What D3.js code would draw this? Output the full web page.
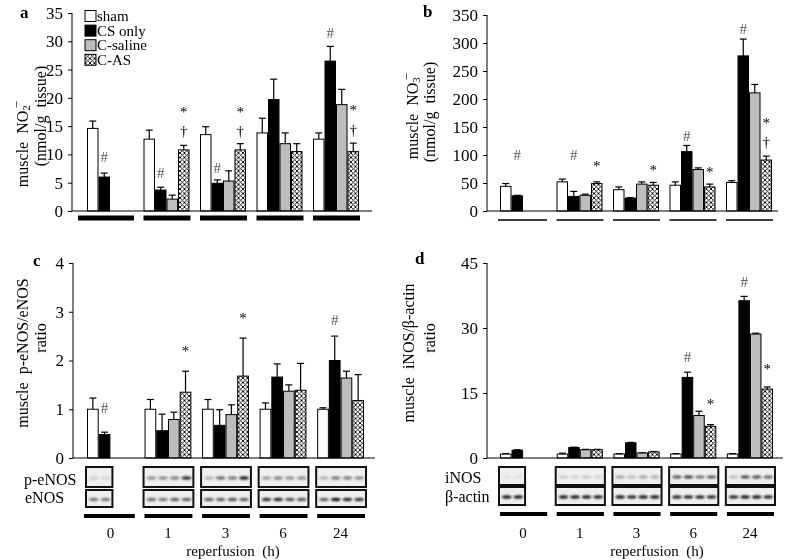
<!DOCTYPE html>
<html><head><meta charset="utf-8">
<script src="https://cdn.jsdelivr.net/npm/d3@7"></script>
<style>body{margin:0;background:#fff} svg{display:block;filter:grayscale(1)} text{font-family:"Liberation Serif","Times New Roman",Times,serif;fill:#000}</style>
</head><body><svg id="chart" width="785" height="560"></svg>
<script>
// ---------- data ----------
const groups = ["0","1","3","6","24"];
const seriesNames = ["sham","CS only","C-saline","C-AS"];

// panel a: muscle NO2- (mean, upper error) ; rows = series
const no2Mean = [[14.6,12.7,13.5,13.8,12.7],[6.0,3.7,4.9,19.7,26.5],[null,2.1,5.3,11.9,18.8],[null,10.8,10.8,10.5,10.5]];
const no2Upper = [[15.9,14.3,14.9,16.4,13.8],[6.7,4.2,5.5,23.3,29.1],[null,2.8,7.1,13.8,21.5],[null,11.6,11.9,11.9,12.0]];
const no2Ticks = [0,5,10,15,20,25,30,35];
const no2Marks = [[0,1,"#",9.5],[1,1,"#",6.7],[2,1,"#",7.6],[4,1,"#",31.5],[1,3,"*",17.5],[1,3,"†",14.1],[2,3,"*",17.5],[2,3,"†",14.1],[4,3,"*",17.9],[4,3,"†",14.3]];

// panel b: muscle NO3-
const no3Mean = [[44,52,38,46,51],[27,26,23,106,277],[null,28,48,74,211],[null,49,46,43,91]];
const no3Upper = [[49,57,43,52,54],[28,35,24,117,307],[null,30,52,77,226],[null,52,51,48,98]];
const no3Ticks = [0,50,100,150,200,250,300,350];
const no3Marks = [[0,1,"#",100],[1,1,"#",100],[1,3,"*",80],[2,3,"*",73],[3,1,"#",134],[3,3,"*",70],[4,1,"#",325],[4,3,"*",157],[4,3,"†",123]];

// panel c: p-eNOS/eNOS ratio
const enosMean = [[1.0,1.0,1.0,1.0,1.0],[0.48,0.56,0.67,1.66,2.0],[null,0.79,0.89,1.37,1.64],[null,1.35,1.68,1.39,1.18]];
const enosUpper = [[1.23,1.2,1.2,1.13,1.03],[0.53,0.9,0.99,1.93,2.5],[null,0.94,1.09,1.5,1.78],[null,1.78,2.46,1.94,1.71]];
const enosTicks = [0,1,2,3,4];
const enosMarks = [[0,1,"#",1.03],[1,3,"*",2.2],[2,3,"*",2.87],[4,1,"#",2.83]];
const peNOSBands = [[.12,.12],[.4,.42,.45,.85],[.25,.55,.5,.9],[.35,.45,.4,.4],[.25,.5,.48,.42]];
const eNOSBands = [[.5,.5],[.55,.5,.6,.6],[.6,.6,.65,.6],[.8,.85,.65,.65],[.6,.95,.85,.8]];

// panel d: iNOS/beta-actin ratio
const inosMean = [[0.9,0.9,0.9,0.9,0.9],[1.8,2.4,3.5,18.6,36.3],[null,1.9,1.15,9.8,28.6],[null,1.9,1.4,7.3,15.9]];
const inosUpper = [[1.0,1.1,1.0,1.0,1.0],[1.9,2.5,3.6,19.8,37.3],[null,2.0,1.2,10.8,28.8],[null,2.0,1.5,7.7,16.4]];
const inosTicks = [0,15,30,45];
const inosMarks = [[3,1,"#",23.3],[3,3,"*",12.5],[4,1,"#",40.6],[4,3,"*",20.5]];
const iNOSBands = [[.06,.06],[.15,.1,.15,.1],[.3,.2,.3,.25],[.6,.7,.5,.6],[.2,.65,.65,.55]];
const actinBands = [[.9,.9],[.9,.9,.9,.9],[.9,.85,.9,.9],[.85,.85,.85,.85],[.85,.9,.9,.85]];

// ---------- drawing ----------
const svg = d3.select("#chart");
const defs = svg.append("defs");
const pat = defs.append("pattern").attr("id","hatch").attr("patternUnits","userSpaceOnUse")
  .attr("width",4.5).attr("height",4.5);
pat.append("rect").attr("width",4.5).attr("height",4.5).attr("fill","#fff");
pat.append("path").attr("d","M0,0 L4.5,4.5 M4.5,0 L0,4.5 M-1,1 L1,-1 M3.5,5.5 L5.5,3.5 M-1,3.5 L1,5.5 M3.5,-1 L5.5,1")
  .attr("stroke","#000").attr("stroke-width",0.9);
defs.append("filter").attr("id","blur").attr("x","-50%").attr("y","-100%").attr("width","200%").attr("height","300%")
  .append("feGaussianBlur").attr("stdDeviation",0.9);

const fills = ["#fff","#000","#bdbdbd","url(#hatch)"];

function panel(cfg){
  const g = svg.append("g");
  const x = d3.scaleBand().domain(groups).range([cfg.x0,cfg.x1]).paddingInner(0.186).paddingOuter(0);
  const xs = d3.scaleBand().domain(d3.range(4)).range([0,x.bandwidth()]);
  const y = d3.scaleLinear().domain([0,cfg.max]).range([cfg.y0,cfg.y1]);

  // bars
  cfg.mean.forEach((row,si)=>{
    row.forEach((v,gi)=>{
      if(v==null) return;
      const bx = x(groups[gi])+xs(si);
      const up = cfg.upper[si][gi];
      const cx = bx + xs.bandwidth()/2;
      g.append("line").attr("x1",cx).attr("x2",cx).attr("y1",y(v)).attr("y2",y(up)).attr("stroke","#000").attr("stroke-width",1.2);
      g.append("line").attr("x1",cx-3.5).attr("x2",cx+3.5).attr("y1",y(up)).attr("y2",y(up)).attr("stroke","#000").attr("stroke-width",1.2);
      g.append("rect").attr("x",bx+0.5).attr("y",y(v)).attr("width",xs.bandwidth()-1).attr("height",cfg.y0-y(v))
        .attr("fill",fills[si]).attr("stroke","#000").attr("stroke-width",1);
    });
  });

  // axes
  const ya = d3.axisLeft(y).tickValues(cfg.ticks).tickFormat(d3.format("d")).tickSize(4).tickPadding(5);
  const yg = g.append("g").attr("transform",`translate(${cfg.axisX},0)`).call(ya);
  yg.select(".domain").remove();
  yg.selectAll(".tick line").attr("stroke","#000");
  yg.selectAll(".tick text").attr("font-size",17).attr("font-family","Liberation Serif");
  g.append("line").attr("x1",cfg.axisX).attr("x2",cfg.axisX).attr("y1",y(cfg.max)).attr("y2",cfg.y0).attr("stroke","#000");
  g.append("line").attr("x1",cfg.axisX).attr("x2",cfg.axisEnd).attr("y1",cfg.y0).attr("y2",cfg.y0).attr("stroke","#000").attr("stroke-width",1.2);

  // markers
  cfg.marks.forEach(([gi,si,t,v])=>{
    g.append("text").attr("x",x(groups[gi])+xs(si)+xs.bandwidth()/2).attr("y",y(v))
      .attr("text-anchor","middle").attr("dominant-baseline","central")
      .attr("font-size",15).style("fill",t==="#"?"#555":"#000").text(t);
  });

  // group underline bars
  groups.forEach((gr,gi)=>{
    const s = x(gr) - (gi===0?cfg.firstShift:0);
    g.append("rect").attr("x",s).attr("y",cfg.lineY - cfg.lineW/2).attr("width",x.bandwidth()+1+(gi===0?cfg.firstShift:0)).attr("height",cfg.lineW).attr("fill","#000");
  });

  // blots
  if(cfg.blots){
    cfg.blots.forEach(b=>{
      groups.forEach((gr,gi)=>{
        const lanes = b.bands[gi];
        const bx = x(gr)-1, bw = lanes.length*xs.bandwidth()+3;
        g.append("rect").attr("x",bx).attr("y",b.y).attr("width",bw).attr("height",b.h)
          .attr("fill","#efefef").attr("stroke","#111").attr("stroke-width",2);
        lanes.forEach((v,li)=>{
          g.append("ellipse").attr("cx",x(gr)+xs(li)+xs.bandwidth()/2+1).attr("cy",b.y+b.h/2+1)
            .attr("rx",4.8).attr("ry",1.7).attr("fill","#000").attr("opacity",v).attr("filter","url(#blur)");
        });
      });
      g.append("text").attr("x",b.labelX).attr("y",b.labelY).attr("font-size",16).text(b.label);
    });
    groups.forEach(gr=>{
      g.append("text").attr("x",x(gr)+x.bandwidth()/2).attr("y",538)
        .attr("text-anchor","middle").attr("font-size",15).text(gr);
    });
    g.append("text").attr("x",cfg.reperfX).attr("y",556).attr("text-anchor","middle").attr("font-size",15)
      .style("white-space","pre").text("reperfusion  (h)");
  }

  // panel letter
  g.append("text").attr("x",cfg.letterX).attr("y",cfg.letterY).attr("font-size",17).attr("font-weight","bold").text(cfg.letter);

  // y labels
  cfg.ylabels.forEach(l=>{
    const t = g.append("text").attr("transform",`translate(${l.x},${l.y}) rotate(-90)`)
      .attr("text-anchor","middle").attr("dominant-baseline","central").attr("font-size",16).style("white-space","pre");
    l.parts.forEach(p=>{
      const ts = t.append("tspan").text(p.t);
      if(p.sub){ ts.attr("font-size",11).attr("dy",4); }
      if(p.sup){ ts.attr("font-size",13).attr("dy",-10).attr("dx",-3); }
    });
  });
  return {x,xs,y};
}

panel({letter:"a",letterX:20,letterY:18,axisX:72,axisEnd:372,x0:87,x1:359,y0:211,max:35,y1:13,ticks:no2Ticks,
  mean:no2Mean,upper:no2Upper,marks:no2Marks,lineY:218,lineW:5,firstShift:9,
  ylabels:[{x:22,y:144,parts:[{t:"muscle  NO"},{t:"2",sub:true},{t:"−",sup:true}]},{x:40,y:116,parts:[{t:"(nmol/g  tissue)"}]}]});

panel({letter:"b",letterX:423,letterY:17,axisX:487,axisEnd:778,x0:500,x1:772,y0:211,max:350,y1:15,ticks:no3Ticks,
  mean:no3Mean,upper:no3Upper,marks:no3Marks,lineY:220,lineW:1.5,firstShift:2,
  ylabels:[{x:412,y:116,parts:[{t:"muscle  NO"},{t:"3",sub:true},{t:"−",sup:true}]},{x:429,y:112,parts:[{t:"(nmol/g  tissue)"}]}]});

panel({letter:"c",letterX:33,letterY:266,axisX:73,axisEnd:375,x0:87,x1:364,y0:458,max:4,y1:263,ticks:enosTicks,
  mean:enosMean,upper:enosUpper,marks:enosMarks,lineY:516,lineW:4,firstShift:3,reperfX:233,
  blots:[{y:467,h:20,bands:peNOSBands,label:"p-eNOS",labelX:24,labelY:485},{y:490,h:17,bands:eNOSBands,label:"eNOS",labelX:25,labelY:503}],
  ylabels:[{x:22,y:353,parts:[{t:"muscle  p-eNOS/eNOS"}]},{x:40,y:338,parts:[{t:"ratio"}]}]});

panel({letter:"d",letterX:415,letterY:264,axisX:487,axisEnd:783,x0:500,x1:773,y0:458,max:45,y1:263,ticks:inosTicks,
  mean:inosMean,upper:inosUpper,marks:inosMarks,lineY:514,lineW:4,firstShift:0,reperfX:657,
  blots:[{y:467,h:18,bands:iNOSBands,label:"iNOS",labelX:445,labelY:483},{y:487,h:18,bands:actinBands,label:"β-actin",labelX:445,labelY:502}],
  ylabels:[{x:408,y:353,parts:[{t:"muscle  iNOS/β-actin"}]},{x:429,y:338,parts:[{t:"ratio"}]}]});

// legend (panel a)
const leg = svg.append("g");
seriesNames.forEach((n,i)=>{
  const cy = 16 + i*14.6;
  leg.append("rect").attr("x",85).attr("y",cy-5.5).attr("width",11).attr("height",11).attr("fill",fills[i]).attr("stroke","#000");
  leg.append("text").attr("x",97).attr("y",cy+5).attr("font-size",15).text(n);
});
</script></body></html>
